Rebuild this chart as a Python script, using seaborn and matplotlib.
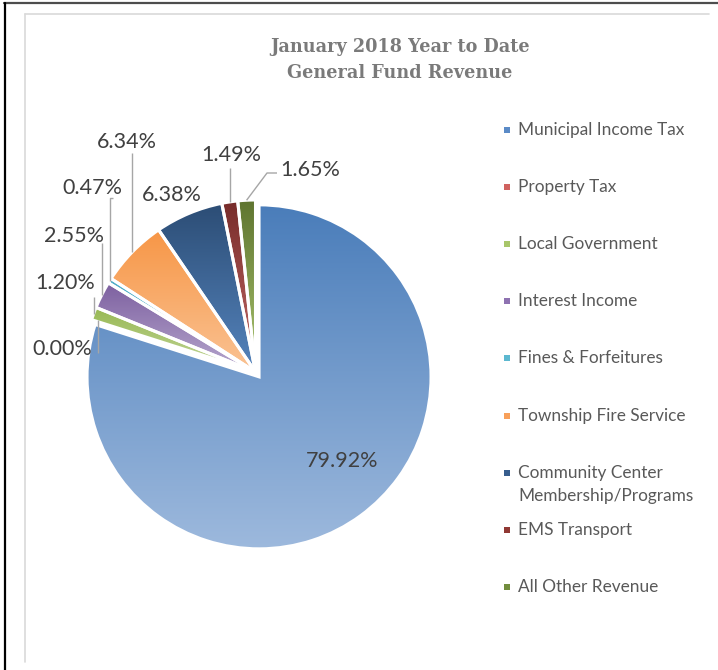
import numpy as np
import matplotlib
matplotlib.use("Agg")
import matplotlib.pyplot as plt
import seaborn as sns
from matplotlib.colors import to_rgb

sns.set_theme(style="white")
plt.rcParams["font.family"] = ["Lato", "DejaVu Sans"]

# ---- data -------------------------------------------------------------
categories = [
    "Municipal Income Tax",
    "Property Tax",
    "Local Government",
    "Interest Income",
    "Fines & Forfeitures",
    "Township Fire Service",
    "Community Center\nMembership/Programs",
    "EMS Transport",
    "All Other Revenue",
]
shares = [79.92, 0.00, 1.20, 2.55, 0.47, 6.34, 6.38, 1.49, 1.65]
title_lines = ["January 2018 Year to Date", "General Fund Revenue"]

# ---- styling ----------------------------------------------------------
grad_top = ["#4A7DBA", "#C0504D", "#98B954", "#7D60A0", "#4BACC6",
            "#F79646", "#2C4D75", "#772C2A", "#5F7530"]
grad_bottom = ["#9DB9DD", "#D99694", "#C3D69B", "#B7A8CE", "#93CDDD",
               "#FAC394", "#5584BD", "#C46A67", "#A9C46E"]
swatch = ["#5B8BC7", "#D0625F", "#A8C66A", "#8E72B1", "#5CB8D0",
          "#F8A05A", "#375D8D", "#903834", "#728D3D"]

W, H = 718, 670
fig = plt.figure(figsize=(W / 100, H / 100), dpi=100)
ax = fig.add_axes([0, 0, 1, 1])


def py(y):
    """Convert a top-down pixel row into the y-up axes coordinate."""
    return H - y


center = (255.5, py(372))
R = 172
explode = [6, 0, 0, 0, 0, 0, 0, 0, 0]

wedges, _ = ax.pie(
    shares, startangle=90, counterclock=False, center=center, radius=R,
    explode=explode, labeldistance=None, colors=grad_top,
    wedgeprops=dict(edgecolor="white", linewidth=2.2),
)

# vertical gradient fill for every slice
t = np.linspace(0.0, 1.0, 256)[:, None]
for w, s, c0, c1 in zip(wedges, shares, grad_top, grad_bottom):
    if s <= 0:
        w.set_visible(False)
        continue
    ext = w.get_path().get_extents()
    rgb = (1 - t) * np.array(to_rgb(c1)) + t * np.array(to_rgb(c0))
    img = ax.imshow(rgb[:, None, :], extent=(ext.x0, ext.x1, ext.y0, ext.y1),
                    origin="lower", aspect="auto", interpolation="bilinear",
                    zorder=1)
    img.set_clip_path(w)
    w.set_facecolor("none")
    w.set_zorder(2)

# ---- data labels with leader lines ------------------------------------
label_pos = [(342, 461), (62, 349), (65, 283), (74, 236), (92, 188),
             (127, 142), (172, 195), (231, 155), (310, 170)]
leaders = [None, [(None, 353)], [(None, 297)], [(None, 243)],
           [(None, 198), (113, 198)], [(None, 153)], None,
           [(None, 168)], [(267, 173), (277, 173)]]
lead_shift = [0, 6, 0, 0, 0, 0, 0, 0, 0]

for w, s, (lx, ly), lead, dx in zip(wedges, shares, label_pos, leaders,
                                     lead_shift):
    ax.text(lx, py(ly), f"{s:.2f}%", ha="center", va="center",
            fontsize=15.5, color="#404040", zorder=5)
    if lead is None:
        continue
    th = np.deg2rad(0.5 * (w.theta1 + w.theta2))
    axp = w.center[0] + R * np.cos(th) + dx
    ayp = w.center[1] + R * np.sin(th)
    xs, ys = [axp], [ayp]
    for (qx, qy) in lead:
        xs.append(axp if qx is None else qx)
        ys.append(py(qy))
    ax.plot(xs, ys, color="#A6A6A6", lw=1.0, zorder=4, solid_capstyle="butt")

# ---- legend -----------------------------------------------------------
slot0, slot_step = 130, 57.1
for i, (name, col) in enumerate(zip(categories, swatch)):
    y = slot0 + i * slot_step
    ax.scatter([507], [py(y)], marker="s", s=19, color=col, linewidths=0,
               zorder=5)
    for k, line in enumerate(name.split("\n")):
        ax.text(518, py(y + 23 * k), line, ha="left", va="center",
                fontsize=12.4, color="#595959", zorder=5)

# ---- title ------------------------------------------------------------
for k, line in enumerate(title_lines):
    ax.text(400, py(47 + 26 * k), line, ha="center", va="center",
            fontfamily="DejaVu Serif", fontweight="bold", fontsize=12.7,
            color="#7A7A7A")

# ---- frame ------------------------------------------------------------
ax.plot([4, W], [py(3), py(3)], color="#4D4D4D", lw=1.6, clip_on=False)
ax.plot([5, 5], [py(3), py(H)], color="#000000", lw=1.6, clip_on=False)
ax.plot([25, 709], [py(14), py(14)], color="#D9D9D9", lw=1.2, clip_on=False)
ax.plot([25, 25], [py(14), py(662)], color="#D9D9D9", lw=1.2, clip_on=False)

ax.set_xlim(0, W)
ax.set_ylim(0, H)
ax.set_aspect("auto")
ax.axis("off")

fig.savefig("out.png", dpi=100, facecolor="white")
